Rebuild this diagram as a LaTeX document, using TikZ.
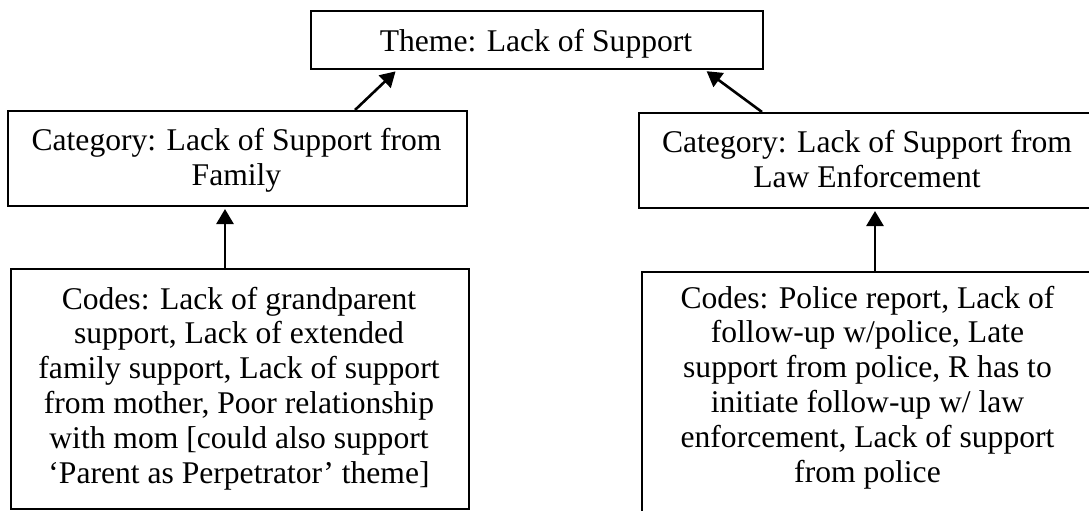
\documentclass[tikz,border=0pt]{standalone}
\usepackage{fontspec}
\setmainfont{Liberation Serif}
\usetikzlibrary{arrows.meta}
\begin{document}
\begin{tikzpicture}[x=0.5pt,y=-0.5pt,
  boxnode/.style={draw=black, line width=1pt, rectangle, inner sep=0pt, anchor=north west},
  txt/.style={font=\fontsize{15.8}{17.4}\selectfont, align=center, inner sep=0pt, anchor=north, text=black},
  arr/.style={line width=1.3pt, -{Triangle[length=7.5pt,width=8.5pt]}, shorten >=1pt}]
\useasboundingbox (0,0) rectangle (1089,510);
\fill[white] (0,0) rectangle (1089,510);
\clip (0,0) rectangle (1089,510);
% boxes
\node[boxnode, minimum width=226pt, minimum height=29pt] (theme) at (310,10) {};
\node[boxnode, minimum width=229.5pt, minimum height=47.5pt] (catL) at (7,110) {};
\node[boxnode, minimum width=229pt, minimum height=47.5pt] (catR) at (638,112) {};
\node[boxnode, minimum width=229pt, minimum height=120pt] (codesL) at (10,268) {};
\node[boxnode, minimum width=226.5pt, minimum height=130pt] (codesR) at (641,271) {};
% texts
\node[txt] (themeT) at (536,28.4) {Theme: Lack of Support};
\node[txt] (catLT) at (236.5,128) {Category: Lack of Support from\\Family};
\node[txt] (catRT) at (867,130) {Category: Lack of Support from\\Law Enforcement};
\node[txt] (codesLT) at (239,286.4) {Codes: Lack of grandparent\\support, Lack of extended\\family support, Lack of support\\from mother, Poor relationship\\with mom [could also support\\‘Parent as Perpetrator’ theme]};
\node[txt] (codesRT) at (867.5,285.4) {Codes: Police report, Lack of\\follow-up w/police, Late\\support from police, R has to\\initiate follow-up w/ law\\enforcement, Lack of support\\from police};
% connector x positions
\coordinate (xL) at (225,0);
\coordinate (xR) at (875,0);
\coordinate (dLs) at (355,0);
\coordinate (dLe) at (397,0);
\coordinate (dRs) at (762,0);
\coordinate (dRe) at (705,0);
% connectors
\draw[arr] (codesL.north -| xL) -- (catL.south -| xL);
\draw[arr] (codesR.north -| xR) -- (catR.south -| xR);
\draw[arr] (catL.north -| dLs) -- (theme.south -| dLe);
\draw[arr] (catR.north -| dRs) -- (theme.south -| dRe);
\end{tikzpicture}
\end{document}
